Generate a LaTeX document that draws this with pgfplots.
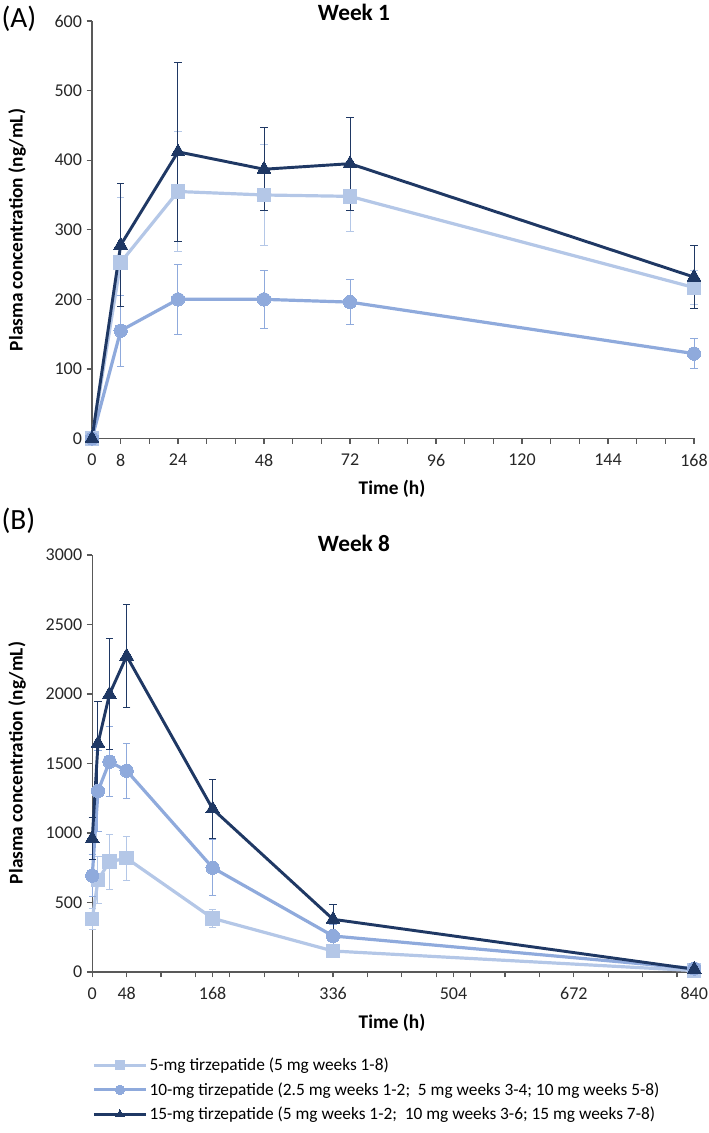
\documentclass[border=0pt]{standalone}
\usepackage{fontspec}
\setmainfont{Carlito}
\usepackage{pgfplots}
\pgfplotsset{compat=1.18}
\usepackage{pgfplotstable}
\definecolor{cL}{HTML}{B4C7E7}
\definecolor{cM}{HTML}{8FAADC}
\definecolor{cD}{HTML}{1F3864}
\definecolor{axgray}{HTML}{595959}

% Week 1
\pgfplotstableread{
t y e
0 0 0
8 253 94
24 355 86
48 350 72
72 348 50
168 217 24
}\ASq
\pgfplotstableread{
t y e
0 0 0
8 155 51
24 200 50
48 200 42
72 196 32
168 122 22
}\ACi
\pgfplotstableread{
t y e
0 0 0
8 278 88
24 412 129
48 387 60
72 395 67
168 232 45
}\ATr
% Week 8
\pgfplotstableread{
t y e
0 380 75
8 662 170
24 794 198
48 818 160
168 386 63
336 151 20
840 10 5
}\BSq
\pgfplotstableread{
t y e
0 693 150
8 1302 290
24 1513 250
48 1448 197
168 750 200
336 259 80
840 25 5
}\BCi
\pgfplotstableread{
t y e
0 960 150
8 1645 300
24 1998 400
48 2273 373
168 1173 213
336 379 110
840 20 5
}\BTr

\pgfplotsset{
 myaxis/.style={
  scale only axis, width=451.5pt,
  axis x line=bottom, axis y line=left,
  axis line style={axgray, line width=0.9pt, -},
  tick align=outside, major tick length=4pt,
  tick style={axgray, line width=0.9pt},
  enlargelimits=false, clip=false,
  ticklabel style={font=\fontsize{13.5}{15}\selectfont, text=black!85},
  xticklabel style={yshift=-4pt},
  /pgf/number format/assume math mode=true,
  /pgf/number format/1000 sep={},
 },
 sq/.style={color=cL, line width=2.4pt, mark=square*, mark size=5pt,
  mark options={line width=0pt, fill=cL, draw=cL},
  error bars/.cd, y dir=both, y explicit,
  error bar style={line width=0.75pt, cL},
  error mark options={rotate=90, line width=0.75pt, mark size=2.7pt, cL}},
 ci/.style={color=cM, line width=2.4pt, mark=*, mark size=5pt,
  mark options={line width=0pt, fill=cM, draw=cM},
  error bars/.cd, y dir=both, y explicit,
  error bar style={line width=0.75pt, cM},
  error mark options={rotate=90, line width=0.75pt, mark size=2.7pt, cM}},
 tr/.style={color=cD, line width=2.2pt, mark=triangle*, mark size=6pt,
  mark options={line width=0pt, fill=cD, draw=cD},
  error bars/.cd, y dir=both, y explicit,
  error bar style={line width=0.75pt, cD},
  error mark options={rotate=90, line width=0.75pt, mark size=2.7pt, cD}},
}

\begin{document}
\begin{tikzpicture}
\useasboundingbox (0,0) rectangle (531.75pt,849.75pt);

% Panel A
\begin{axis}[myaxis, at={(69pt,520.875pt)}, anchor=south west,
  height=313.1pt,
  xmin=0, xmax=168, ymin=0, ymax=600,
  ytick={0,100,...,600},
  xtick={0,8,...,168},
  xticklabels={0,8,,24,,,48,,,72,,,96,,,120,,,144,,,168},
]
\addplot[sq] table[x=t,y=y,y error=e]{\ASq};
\addplot[ci] table[x=t,y=y,y error=e]{\ACi};
\addplot[tr] table[x=t,y=y,y error=e]{\ATr};
\end{axis}

% Panel B
\begin{axis}[myaxis, at={(69.2pt,120.75pt)}, anchor=south west,
  height=312.75pt,
  xmin=0, xmax=840, ymin=0, ymax=3000,
  ytick={0,500,...,3000},
  xtick={0,48,96,144,168,192,240,288,336,384,432,480,504,528,576,624,672,720,768,816,840},
  xticklabels={0,48,,,168,,,,336,,,,504,,,,672,,,,840},
  legend style={at={(-0.007,-0.194)}, anchor=north west, draw=none, fill=none,
    font=\fontsize{13}{15}\selectfont, row sep=4.5pt,
    nodes={inner sep=1.5pt},
    /tikz/every even column/.append style={column sep=1pt}},
  legend cell align=left,
  legend image code/.code={\draw[#1, mark size=3.6pt, mark repeat=2, mark phase=2]
    plot coordinates {(0pt,0pt)(19.5pt,0pt)(39pt,0pt)};},
]
\addplot[sq] table[x=t,y=y,y error=e]{\BSq};
\addlegendentry{5-mg tirzepatide (5 mg weeks 1-8)}
\addplot[ci] table[x=t,y=y,y error=e]{\BCi};
\addlegendentry{10-mg tirzepatide (2.5 mg weeks 1-2;\ \ 5 mg weeks 3-4; 10 mg weeks 5-8)}
\addplot[tr] table[x=t,y=y,y error=e]{\BTr};
\addlegendentry{15-mg tirzepatide (5 mg weeks 1-2;\ \ 10 mg weeks 3-6; 15 mg weeks 7-8)}
\end{axis}

% Titles and labels
\node[font=\fontsize{17.5}{19}\selectfont\bfseries] at (265.5pt,840.75pt) {Week 1};
\node[font=\fontsize{17.5}{19}\selectfont\bfseries] at (265.5pt,442.5pt) {Week 8};
\node[anchor=west, inner sep=0pt, font=\fontsize{22}{24}\selectfont] at (1pt,836pt) {(A)};
\node[anchor=west, inner sep=0pt, font=\fontsize{22}{24}\selectfont] at (1pt,459pt) {(B)};
\node[rotate=90, font=\fontsize{14.5}{16}\selectfont\bfseries] at (12.75pt,677.25pt) {Plasma concentration (ng/mL)};
\node[rotate=90, font=\fontsize{14.5}{16}\selectfont\bfseries] at (12.75pt,277.5pt) {Plasma concentration (ng/mL)};
\node[font=\fontsize{14.5}{16}\selectfont\bfseries] at (294pt,483pt) {Time (h)};
\node[font=\fontsize{14.5}{16}\selectfont\bfseries] at (294pt,82.5pt) {Time (h)};
\end{tikzpicture}
\end{document}
